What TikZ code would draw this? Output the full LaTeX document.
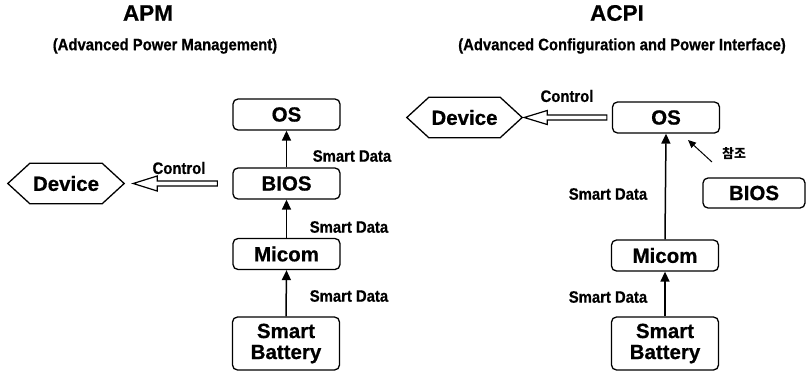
\documentclass[tikz,border=0pt]{standalone}
\usepackage{fontspec}
\setmainfont{Liberation Sans}
\newfontfamily\condf[FakeStretch=0.9,FakeBold=0.6]{Liberation Sans Bold}
\newfontfamily\heavyf[FakeBold=0.6]{Liberation Sans Bold}
\newfontfamily\krf{Noto Sans CJK KR}
\usetikzlibrary{arrows.meta,calc}
\tikzset{
  box/.style={draw, line width=1.3pt, rounded corners=5pt, minimum width=107pt,
    minimum height=31pt, inner sep=0pt, align=center,
    font=\heavyf\fontsize{20.5}{21}\selectfont},
  devbox/.style={minimum width=116pt, minimum height=40pt, inner sep=0pt,
    font=\heavyf\fontsize{20.5}{21}\selectfont},
  hexline/.style={line width=1.3pt, line join=miter},
  lbl/.style={inner sep=0pt, font=\condf\fontsize{16.5}{18}\selectfont},
  ttl/.style={inner sep=0pt, font=\heavyf\fontsize{22.5}{24}\selectfont},
  flow/.style={line width=1.5pt, -{Triangle[length=10pt,width=9pt]}},
  hollow/.style={line width=1.2pt, line join=miter, fill=white},
  refarrow/.style={line width=1pt, -{Triangle[length=8pt,width=7pt]}},
  kr/.style={inner sep=0pt, font=\krf\bfseries\fontsize{13}{14}\selectfont}
}
\begin{document}
\begin{tikzpicture}[x=1pt,y=-1pt]
\useasboundingbox (0,0) rectangle (806,372);

% ---------- APM ----------
\node[ttl] (t1) at (148,13) {APM};
\node[lbl] (s1) at (165,46) {(Advanced Power Management)};

\node[box] (os1) at (286.5,114.5) {OS};
\node[box] (bios1) at (286.5,183.5) {BIOS};
\node[box] (mic1) at (286.5,254) {Micom};
\node[box, minimum height=53pt] (bat1) at (286,343.5) {Smart\\Battery};

\node[devbox] (dev1) at (66,183.5) {Device};
\draw[hexline] (dev1.west) -- ($(dev1.north west)+(22,0)$) -- ($(dev1.north east)+(-22,0)$)
  -- (dev1.east) -- ($(dev1.south east)+(-22,0)$) -- ($(dev1.south west)+(22,0)$) -- cycle;

\coordinate (c1tail) at ($(bios1.west)+(-15,0)$);
\coordinate (c1tip) at ($(dev1.east |- c1tail)+(9,0)$);
\draw[hollow] (c1tip) -- ($(c1tip)+(24,-7.5)$) -- ($(c1tip)+(24,-2.5)$) -- ($(c1tail)+(0,-2.5)$)
  -- ($(c1tail)+(0,2.5)$) -- ($(c1tip)+(24,2.5)$) -- ($(c1tip)+(24,7.5)$) -- cycle;
\node[lbl] (ctl1) at (179,168) {Control};

\draw[flow] (bios1.north) -- (os1.south);
\draw[flow] (mic1.north) -- (bios1.south);
\draw[flow] (bat1.north) -- (mic1.south);
\node[lbl] (sd1) at (352,156) {Smart Data};
\node[lbl] (sd2) at (349,227) {Smart Data};
\node[lbl] (sd3) at (349,296) {Smart Data};

% ---------- ACPI ----------
\node[ttl] (t2) at (617,13) {ACPI};
\node[lbl] (s2) at (622,46) {(Advanced Configuration and Power Interface)};

\node[box] (os2) at (666,117.5) {OS};
\node[box, minimum width=102pt, minimum height=30pt] (bios2) at (754,193) {BIOS};
\node[box] (mic2) at (665,255.5) {Micom};
\node[box, minimum height=53pt] (bat2) at (665,343.5) {Smart\\Battery};

\node[devbox, minimum width=115pt] (dev2) at (464.5,117.5) {Device};
\draw[hexline] (dev2.west) -- ($(dev2.north west)+(22,0)$) -- ($(dev2.north east)+(-22,0)$)
  -- (dev2.east) -- ($(dev2.south east)+(-22,0)$) -- ($(dev2.south west)+(22,0)$) -- cycle;

\coordinate (c2tail) at ($(os2.west)+(-5,0)$);
\coordinate (c2tip) at ($(dev2.east |- c2tail)+(2,0)$);
\draw[hollow] (c2tip) -- ($(c2tip)+(23,-7)$) -- ($(c2tip)+(23,-2.5)$) -- ($(c2tail)+(0,-2.5)$)
  -- ($(c2tail)+(0,2.5)$) -- ($(c2tip)+(23,2.5)$) -- ($(c2tip)+(23,7)$) -- cycle;
\node[lbl] (ctl2) at (567,96) {Control};

\draw[flow] (mic2.north) -- (os2.south);
\draw[flow] (bat2.north) -- (mic2.south);
\node[lbl] (sd4) at (608,194) {Smart Data};
\node[lbl] (sd5) at (608,297) {Smart Data};

\coordinate (refstart) at (712,162);
\coordinate (refend) at (688,140);
\draw[refarrow] (refstart) -- (refend);
\node[kr] (ref) at (734,154) {참조};
\end{tikzpicture}
\end{document}
